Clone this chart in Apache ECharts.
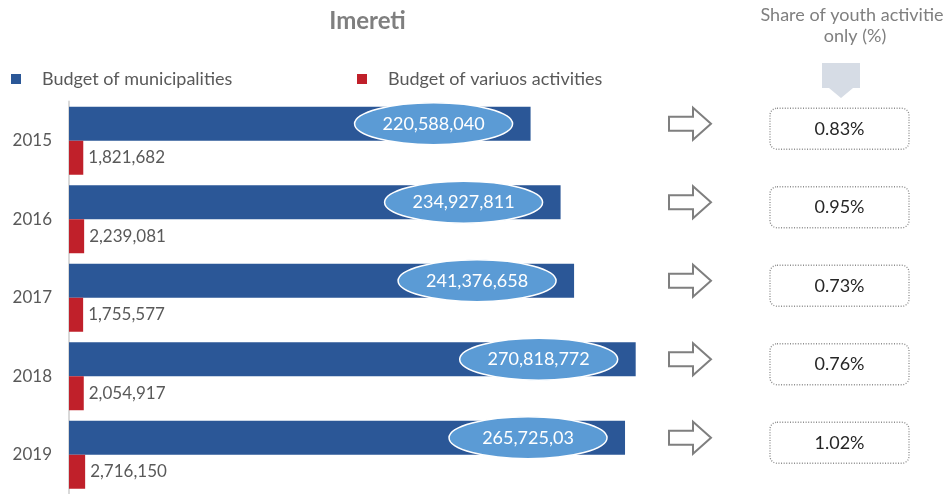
<!DOCTYPE html>
<html>
<head>
<meta charset="utf-8">
<script src="https://cdn.jsdelivr.net/npm/echarts@6/dist/echarts.min.js"></script>
<style>html,body{margin:0;padding:0;background:#fff;}#c{width:950px;height:494px;}</style>
</head>
<body>
<div id="c"></div>
<script>
const categories = ['2015', '2016', '2017', '2018', '2019'];
const municipalBudget = [220588040, 234927811, 241376658, 270818772, 265725030];
const municipalLabels = ['220,588,040', '234,927,811', '241,376,658', '270,818,772', '265,725,03'];
const activityBudget = [1821682, 2239081, 1755577, 2054917, 2716150];
const youthShare = [0.83, 0.95, 0.73, 0.76, 1.02];

const FONT = 'Lato, "Open Sans", sans-serif';
const chart = echarts.init(document.getElementById('c'), null, {renderer: 'canvas'});

const BAR_W = 34;

function arrowPoints(x0, cy) {
  return [[x0, cy - 7], [x0 + 24, cy - 7], [x0 + 24, cy - 16], [x0 + 42, cy],
          [x0 + 24, cy + 16], [x0 + 24, cy + 7], [x0, cy + 7]];
}

chart.setOption({
  animation: false,
  backgroundColor: '#ffffff',
  legend: [
    {data: [{name: 'Budget of municipalities', icon: 'rect', itemStyle: {color: '#2b5797'}}],
     left: 6, top: 65, itemWidth: 10, itemHeight: 10,
     textStyle: {fontFamily: FONT, fontSize: 18, color: '#595959', padding: [0, 0, 0, 16]}},
    {data: [{name: 'Budget of variuos activities', icon: 'rect', itemStyle: {color: '#c0202a'}}],
     left: 352, top: 65, itemWidth: 10, itemHeight: 10,
     textStyle: {fontFamily: FONT, fontSize: 18, color: '#595959', padding: [0, 0, 0, 16]}}
  ],
  grid: {left: 69, right: 44, top: 101.5, bottom: -7.5, containLabel: false},
  xAxis: [
    {type: 'value', min: 0, max: 400000000, show: false},
    {type: 'value', min: -5000000, max: 395000000, startValue: -5000000, show: false}
  ],
  yAxis: {
    type: 'category', data: categories, inverse: true,
    axisLine: {show: true, lineStyle: {color: '#d9d9d9', width: 2}},
    axisTick: {show: false},
    splitLine: {show: false},
    axisLabel: {fontFamily: FONT, fontSize: 17, color: '#595959', margin: 17}
  },
  graphic: [
    {type: 'text', x: 367.5, y: 21, style: {text: 'Imereti', fontFamily: FONT, fontSize: 24, fontWeight: 'bold',
      fill: '#7f7f7f', textAlign: 'center', textVerticalAlign: 'middle'}},
    {type: 'text', x: 852, y: 15, style: {text: 'Share of youth activitie', fontFamily: FONT, fontSize: 18, fill: '#7f7f7f',
      textAlign: 'center', textVerticalAlign: 'middle'}},
    {type: 'text', x: 855, y: 36, style: {text: 'only (%)', fontFamily: FONT, fontSize: 18, fill: '#7f7f7f',
      textAlign: 'center', textVerticalAlign: 'middle'}},
    {type: 'polygon', shape: {points: [[822, 63], [860, 63], [860, 88], [853, 88], [841, 98], [829, 88], [822, 88]]},
     style: {fill: '#d6dce5'}}
  ],
  series: [
    {
      name: 'Budget of municipalities', type: 'bar', xAxisIndex: 0,
      data: municipalBudget, barWidth: BAR_W, barGap: '0%',
      itemStyle: {color: '#2b5797'}
    },
    {
      name: 'Budget of variuos activities', type: 'bar', xAxisIndex: 1,
      data: activityBudget, barWidth: BAR_W, barGap: '0%',
      itemStyle: {color: '#c0202a'},
      label: {show: true, position: 'right', distance: 5, fontFamily: FONT, fontSize: 17, color: '#595959',
              formatter: p => p.value.toLocaleString('en-US')}
    },
    {
      type: 'custom', xAxisIndex: 0, clip: false, silent: true, z: 5,
      data: municipalBudget.map((v, i) => [v, i]),
      renderItem: function (params, api) {
        const i = api.value(1);
        const end = api.coord([api.value(0), i]);
        const cx = end[0] - 97;
        const cy = end[1] - BAR_W / 2;
        return {
          type: 'group',
          children: [
            {type: 'ellipse', shape: {cx: cx, cy: cy, rx: 79, ry: 21},
             style: {fill: '#5b9bd5', stroke: '#ffffff', lineWidth: 1.5}},
            {type: 'text', x: cx, y: cy,
             style: {text: municipalLabels[i], fill: '#ffffff', fontFamily: FONT, fontSize: 18,
                     textAlign: 'center', textVerticalAlign: 'middle'}}
          ]
        };
      }
    },
    {
      type: 'custom', xAxisIndex: 0, clip: false, silent: true, z: 5,
      data: youthShare.map((v, i) => [v, i]),
      renderItem: function (params, api) {
        const i = api.value(1);
        const cyCat = api.coord([0, i])[1];
        const ay = cyCat - 17;
        const by = cyCat - 12;
        return {
          type: 'group',
          children: [
            {type: 'polygon', shape: {points: arrowPoints(669, ay)},
             style: {fill: '#ffffff', stroke: '#7f7f7f', lineWidth: 2}},
            {type: 'rect', shape: {x: 770, y: by - 20.5, width: 139, height: 41, r: 7},
             style: {fill: '#ffffff', stroke: '#8c8c8c', lineWidth: 1.3, lineDash: [1, 1.6]}},
            {type: 'text', x: 839.5, y: by,
             style: {text: api.value(0).toFixed(2) + '%', fill: '#262626', fontFamily: FONT, fontSize: 18,
                     textAlign: 'center', textVerticalAlign: 'middle'}}
          ]
        };
      }
    }
  ]
});
</script>
</body>
</html>
